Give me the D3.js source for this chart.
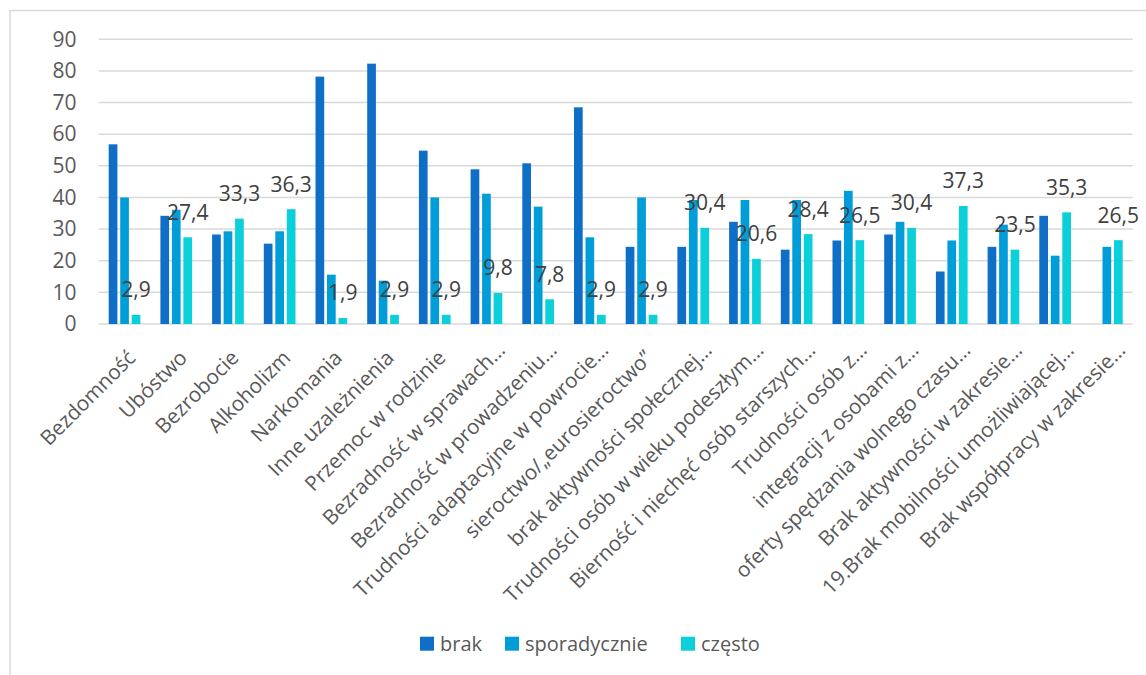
<!DOCTYPE html>
<html><head><meta charset="utf-8">
<script src="https://cdn.jsdelivr.net/npm/d3@7"></script>
<style>
html,body{margin:0;padding:0;background:#fff;}
svg{display:block;}
text{font-family:"Open Sans",sans-serif;}
</style></head>
<body><svg id="c" width="1146" height="675"></svg>
<script>
const categories = [
  "Bezdomność","Ubóstwo","Bezrobocie","Alkoholizm","Narkomania","Inne uzależnienia",
  "Przemoc w rodzinie","Bezradność w sprawach…","Bezradność w prowadzeniu…",
  "Trudności adaptacyjne w powrocie…","sieroctwo/„eurosieroctwo”","brak aktywności społecznej…",
  "Trudności osób w wieku podeszłym…","Bierność i niechęć osób starszych…","Trudności osób z…",
  "integracji z osobami z…","oferty spędzania wolnego czasu…","Brak aktywności w zakresie…",
  "19.Brak mobilności umożliwiającej…","Brak współpracy w zakresie…"
];
const seriesNames = ["brak","sporadycznie","często"];
const brak = [56.8,34.2,28.3,25.4,78.2,82.3,54.8,48.9,50.8,68.5,24.4,24.4,32.3,23.5,26.4,28.3,16.6,24.4,34.2,null];
const sporadycznie = [40.0,36.1,29.3,29.3,15.6,13.7,40.0,41.2,37.1,27.4,40.0,39.2,39.2,39.2,42.1,32.3,26.4,31.4,21.6,24.4];
const czesto = [2.9,27.4,33.3,36.3,1.9,2.9,2.9,9.8,7.8,2.9,2.9,30.4,20.6,28.4,26.5,30.4,37.3,23.5,35.3,26.5];
const yTicks = [0,10,20,30,40,50,60,70,80,90];
const colors = ["#0F6FC6","#009DD9","#0BD0D9"];

const seriesData = [brak, sporadycznie, czesto];
const svg = d3.select("#c");

// chart border
svg.append("rect").attr("x",10).attr("y",10.5).attr("width",1200).attr("height",700)
  .attr("fill","none").attr("stroke","#d9d9d9").attr("stroke-width",1.5);

const plotL = 98.7, plotR = 1132.7, plotT = 39.3, plotB = 324;
const x0 = d3.scaleBand().domain(d3.range(categories.length)).range([plotL,plotR]).paddingInner(0).paddingOuter(0);
const groupW = 31.7;
const x1 = d3.scaleBand().domain(d3.range(3)).range([0,groupW]).paddingInner(0.243).paddingOuter(0);
const y = d3.scaleLinear().domain([0,90]).range([plotB,plotT]);

// gridlines
svg.append("g").selectAll("line").data(yTicks).join("line")
  .attr("x1",plotL).attr("x2",plotR)
  .attr("y1",d=>y(d)).attr("y2",d=>y(d))
  .attr("stroke","#d9d9d9").attr("stroke-width",1.5);

// y axis labels
const yAxis = d3.axisLeft(y).tickValues(yTicks).tickSize(0).tickPadding(0).tickFormat(d3.format("d"));
const gy = svg.append("g").attr("transform",`translate(76.5,0)`).call(yAxis);
gy.select(".domain").remove();
gy.selectAll("text").attr("font-size","21px").attr("fill","#595959").attr("font-family","Open Sans");

// bars
const groups = svg.append("g").selectAll("g").data(categories).join("g")
  .attr("transform",(d,i)=>`translate(${x0(i)+(x0.bandwidth()-groupW)/2},0)`);
groups.selectAll("rect").data((d,i)=>seriesData.map((s,k)=>({k, v:s[i]})).filter(o=>o.v!=null))
  .join("rect")
  .attr("x",o=>x1(o.k)).attr("width",x1.bandwidth())
  .attr("y",o=>y(o.v)).attr("height",o=>plotB-y(o.v))
  .attr("fill",o=>colors[o.k]);

// data labels for "często"
const fmt = v => d3.format(".1f")(v).replace(".",",");
svg.append("g").selectAll("text").data(czesto).join("text")
  .attr("x",(v,i)=>x0(i)+(x0.bandwidth()-groupW)/2 + x1(2) + x1.bandwidth()/2)
  .attr("y",v=>y(v)-25)
  .attr("dy","0.35em")
  .attr("text-anchor","middle")
  .attr("font-size","21px").attr("fill","#404040")
  .text(fmt);

// x labels
svg.append("g").selectAll("text").data(categories).join("text")
  .attr("transform",(d,i)=>`translate(${x0(i)+x0.bandwidth()/2+7},${plotB+30}) rotate(-45)`)
  .attr("text-anchor","end").attr("dy","0.35em")
  .attr("dx",d=>d.endsWith("…") ? 11 : 0)
  .attr("font-size","20.7px").attr("fill","#595959")
  .text(d=>d);

// legend
const legX = [420,505,681];
const leg = svg.append("g").selectAll("g").data(seriesNames).join("g")
  .attr("transform",(d,i)=>`translate(${legX[i]},636.7)`);
leg.append("rect").attr("width",14).attr("height",14).attr("fill",(d,i)=>colors[i]);
leg.append("text").attr("x",20).attr("y",7).attr("dy","0.35em")
  .attr("font-size","20px").attr("fill","#595959").text(d=>d);
</script></body></html>
